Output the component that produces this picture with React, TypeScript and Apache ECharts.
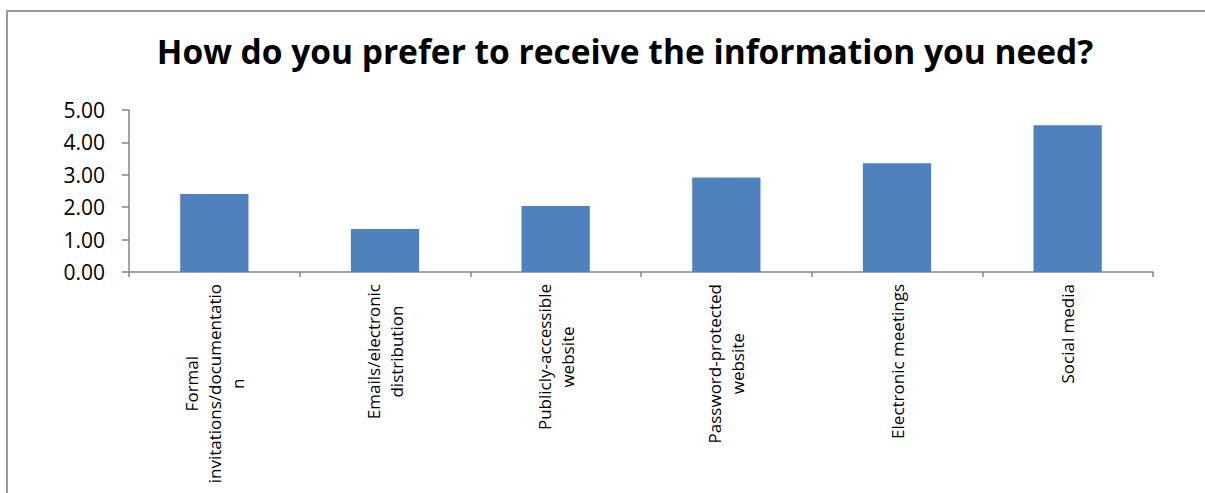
import React, { useEffect, useRef } from "react";
import * as echarts from "echarts";

const titleText = "How do you prefer to receive the information you need?";
const categories = [
  "Formal\ninvitations/documentatio\nn",
  "Emails/electronic\ndistribution",
  "Publicly-accessible\nwebsite",
  "Password-protected\nwebsite",
  "Electronic meetings",
  "Social media",
];
const values = [2.41, 1.33, 2.04, 2.92, 3.36, 4.53];
const yMin = 0;
const yMax = 5;
const yStep = 1;

export default function App() {
  const ref = useRef<HTMLDivElement>(null);
  useEffect(() => {
    document.body.style.margin = "0";
    const chart = echarts.init(ref.current!, null, { renderer: "svg" });
    const font = "'Open Sans', 'Noto Sans', sans-serif";
    chart.setOption({
      animation: false,
      backgroundColor: "#ffffff",
      textStyle: { fontFamily: font },
      title: {
        text: titleText,
        left: 620,
        top: 29,
        textAlign: "center",
        textStyle: { fontFamily: font, fontWeight: "bold", fontSize: 33.5, color: "#000" },
      },
      graphic: [
        {
          type: "rect",
          shape: { x: 7, y: 11, width: 1400, height: 700 },
          style: { fill: "none", stroke: "#9a9a9a", lineWidth: 2 },
          silent: true,
          z: -1,
        },
      ],
      grid: { left: 129, right: 52, top: 110, bottom: 221, containLabel: false },
      xAxis: {
        type: "category",
        data: categories,
        axisLine: { lineStyle: { color: "#868686", width: 1.5 } },
        axisTick: { show: true, length: 5, lineStyle: { color: "#868686", width: 1.5 } },
        axisLabel: {
          rotate: 90,
          margin: 12,
          interval: 0,
          color: "#000",
          fontSize: 17,
          lineHeight: 23,
          formatter: (v: string) =>
            v
              .split("\n")
              .map((l) => `{c|${l}}`)
              .join("\n"),
          rich: { c: { align: "center", fontSize: 17, lineHeight: 23, color: "#000", fontFamily: font } },
        },
      },
      yAxis: {
        type: "value",
        min: yMin,
        max: yMax,
        interval: yStep,
        axisLine: { show: true, lineStyle: { color: "#868686", width: 1.5 } },
        axisTick: { show: true, length: 7, lineStyle: { color: "#868686", width: 1.5 } },
        splitLine: { show: false },
        axisLabel: {
          color: "#000",
          fontSize: 21,
          margin: 24,
          formatter: (v: number) => v.toFixed(2),
        },
      },
      series: [
        {
          type: "bar",
          data: values,
          barCategoryGap: "60%",
          itemStyle: { color: "#4F81BD" },
        },
      ],
    });
    return () => chart.dispose();
  }, []);
  return <div ref={ref} style={{ width: 1205, height: 493 }} />;
}
